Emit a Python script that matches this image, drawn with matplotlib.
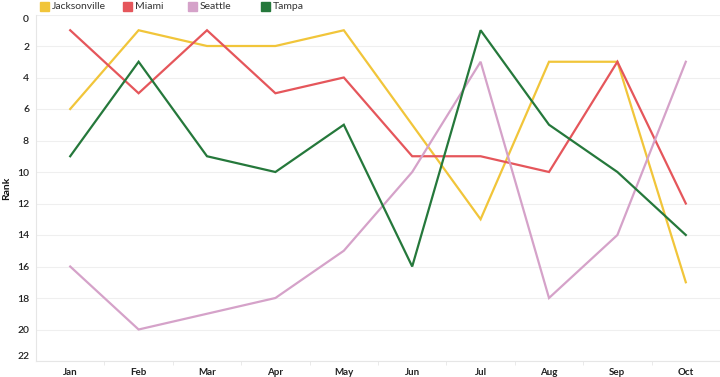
import matplotlib
matplotlib.use("Agg")
import matplotlib.pyplot as plt
from matplotlib.patches import Rectangle

months = ["Jan", "Feb", "Mar", "Apr", "May", "Jun", "Jul", "Aug", "Sep", "Oct"]
jacksonville = [6, 1, 2, 2, 1, 7, 13, 3, 3, 17]
miami = [1, 5, 1, 5, 4, 9, 9, 10, 3, 12]
seattle = [16, 20, 19, 18, 15, 10, 3, 18, 14, 3]
tampa = [9, 3, 9, 10, 7, 16, 1, 7, 10, 14]
series_names = ["Jacksonville", "Miami", "Seattle", "Tampa"]
series_values = [jacksonville, miami, seattle, tampa]
colors = ["#F1C53A", "#E5565B", "#D5A2C9", "#25783B"]
yticks = list(range(0, 23, 2))

plt.rcParams['font.family'] = ['Lato', 'DejaVu Sans']

fig = plt.figure(figsize=(7.2, 3.77), dpi=100)
ax = fig.add_axes([36/720, 1-361/377, 1-36/720, (361-14.5)/377])

x = list(range(len(months)))
for vals, c in zip(series_values, colors):
    ax.plot(x, vals, color=c, lw=1.6, solid_joinstyle='miter', zorder=3)

ax.set_xlim(-0.5, len(months) - 0.5)
ax.set_ylim(22, 0)
ax.set_yticks(yticks)
ax.set_yticklabels([str(t) for t in yticks])
ax.set_xticks(x)
ax.set_xticklabels(months)
ax.grid(axis='y', color='#efefef', lw=0.8, zorder=0)
for s in ['top', 'right']:
    ax.spines[s].set_visible(False)
ax.spines['left'].set_color('#e6e6e6')
ax.spines['bottom'].set_color('#e6e6e6')
ax.tick_params(axis='both', length=0, labelcolor='#222222')
ax.tick_params(axis='y', pad=5, labelsize=7.5)
ax.tick_params(axis='x', pad=5, labelsize=7)
for lab in ax.get_xticklabels():
    lab.set_fontweight('bold')
ylabs = ax.get_yticklabels()
for lab in ylabs:
    lab.set_fontweight('semibold')
ylabs[0].set_va('top')
ylabs[-1].set_va('bottom')
# minor ticks between months
ax.set_xticks([i + 0.5 for i in x[:-1]], minor=True)
ax.tick_params(axis='x', which='minor', length=3, color='#e6e6e6')

fig.text(7/720, 1-188/377, "Rank", rotation=90, fontsize=7.5, fontweight='bold',
         va='center', ha='center', color='#111111')

# legend
leg_x = [40, 123, 188, 261]
for name, c, lx in zip(series_names, colors, leg_x):
    fig.patches.append(Rectangle((lx/720, 1-11/377), 9/720, 9/377, transform=fig.transFigure,
                                 color=c, figure=fig))
    fig.text((lx + 12)/720, 1-6.5/377, name, fontsize=7.5, va='center', ha='left', color='#333333')

fig.savefig("out.png", dpi=100)
